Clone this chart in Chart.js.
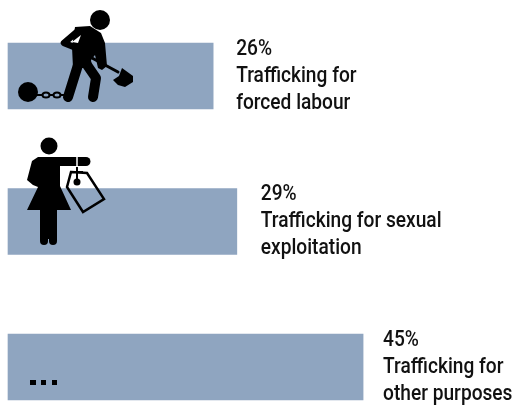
<!DOCTYPE html>
<html>
<head>
<meta charset="utf-8">
<style>
html, body { margin: 0; padding: 0; background: #fff; overflow: hidden; }
#wrap { width: 513px; height: 407px; }
</style>
<script src="https://cdn.jsdelivr.net/npm/chart.js@4"></script>
</head>
<body>
<div id="wrap"><canvas id="chart1" width="513" height="407"></canvas></div>
<script>
const categories = ['Forced labour', 'Sexual exploitation', 'Other purposes'];
const shares = [26, 29, 45];
const labelLines = [
    ['Trafficking for', 'forced labour'],
    ['Trafficking for sexual', 'exploitation'],
    ['Trafficking for', 'other purposes']
];
const labelGaps = [23, 24, 20];

function stroke(ctx, points, width) {
    ctx.lineWidth = width;
    ctx.beginPath();
    points.forEach((p, i) => i ? ctx.lineTo(p[0], p[1]) : ctx.moveTo(p[0], p[1]));
    ctx.stroke();
}

function fillPoly(ctx, points) {
    ctx.beginPath();
    points.forEach((p, i) => i ? ctx.lineTo(p[0], p[1]) : ctx.moveTo(p[0], p[1]));
    ctx.closePath();
    ctx.fill();
}

function circle(ctx, x, y, r) {
    ctx.beginPath();
    ctx.arc(x, y, r, 0, Math.PI * 2);
    ctx.fill();
}

// man with shovel, ball and chain
function drawWorker(ctx) {
    ctx.save();
    ctx.fillStyle = '#000';
    ctx.strokeStyle = '#000';
    ctx.lineCap = 'round';
    ctx.lineJoin = 'round';
    circle(ctx, 100, 20, 10);
    fillPoly(ctx, [[75, 27], [90, 26], [101, 33], [105, 43], [107, 66], [102, 70], [98, 68], [95, 55], [91, 60], [92, 68], [73, 68], [72, 47]]);
    stroke(ctx, [[78, 31], [64, 43], [74, 47]], 6.5);
    ctx.fillStyle = '#fff';
    fillPoly(ctx, [[72, 42], [81, 35], [78, 43]]);
    ctx.fillStyle = '#000';
    stroke(ctx, [[78, 65], [68, 97]], 10);
    stroke(ctx, [[85, 62], [96, 78], [93, 97]], 10);
    stroke(ctx, [[92, 58], [118, 72]], 3);
    fillPoly(ctx, [[122, 68], [133, 76], [133, 82], [125, 87], [118, 85], [113, 80], [119, 76]]);
    circle(ctx, 28, 92, 10);
    stroke(ctx, [[37, 95], [66, 95]], 2);
    ctx.lineWidth = 2;
    ctx.fillStyle = '#8fa5c0';
    [46, 57].forEach(x => {
        ctx.beginPath();
        ctx.ellipse(x, 95, 3.5, 2.5, 0, 0, Math.PI * 2);
        ctx.fill();
        ctx.stroke();
    });
    ctx.restore();
}

// woman holding a price tag
function drawTagged(ctx) {
    ctx.save();
    ctx.fillStyle = '#000';
    ctx.strokeStyle = '#000';
    ctx.lineCap = 'round';
    ctx.lineJoin = 'round';
    circle(ctx, 49, 146, 8.5);
    fillPoly(ctx, [[38, 157], [60, 157], [60, 186], [71, 210], [27, 210], [38, 187], [33, 185], [27, 180], [32, 161]]);
    stroke(ctx, [[58, 161.5], [86, 161.5]], 9);
    ctx.fillRect(40, 210, 17, 29);
    stroke(ctx, [[44, 238], [44, 241]], 8);
    stroke(ctx, [[53, 238], [53, 241]], 8);
    ctx.lineWidth = 2.5;
    ctx.lineJoin = 'miter';
    ctx.beginPath();
    ctx.moveTo(71, 172);
    ctx.lineTo(87, 173);
    ctx.lineTo(104, 199);
    ctx.lineTo(83, 212);
    ctx.lineTo(67, 187);
    ctx.closePath();
    ctx.stroke();
    ctx.strokeStyle = '#fff';
    ctx.lineCap = 'butt';
    stroke(ctx, [[77, 156], [77, 167]], 1.5);
    ctx.strokeStyle = '#000';
    stroke(ctx, [[77, 167], [77, 180]], 2);
    stroke(ctx, [[72, 172], [83, 172]], 2);
    circle(ctx, 77, 182, 3.5);
    ctx.restore();
}

function drawDots(ctx) {
    ctx.fillStyle = '#000';
    ctx.fillRect(30, 380, 6, 5);
    ctx.fillRect(41, 380, 5, 5);
    ctx.fillRect(52, 380, 5, 5);
}

const barLabels = {
    id: 'barLabels',
    afterDatasetsDraw(chart) {
        const ctx = chart.ctx;
        const xs = chart.scales.x;
        const ys = chart.scales.y;
        drawWorker(ctx);
        drawTagged(ctx);
        drawDots(ctx);
        ctx.save();
        ctx.fillStyle = '#111';
        ctx.font = '500 22px Roboto';
        ctx.textBaseline = 'middle';
        shares.forEach((v, i) => {
            const x = xs.getPixelForValue(v) + labelGaps[i];
            const y = ys.getPixelForValue(i);
            [v + '%'].concat(labelLines[i]).forEach((line, j) => {
                ctx.save();
                ctx.translate(x, y + (j - 1) * 27);
                ctx.scale(0.87, 1);
                ctx.fillText(line, 0, 0);
                ctx.restore();
            });
        });
        ctx.restore();
    }
};

new Chart(document.getElementById('chart1').getContext('2d'), {
    type: 'bar',
    data: {
        labels: categories,
        datasets: [{
            data: shares,
            backgroundColor: '#8fa5c0',
            barThickness: 66,
            clip: false
        }]
    },
    options: {
        indexAxis: 'y',
        responsive: false,
        animation: false,
        layout: { padding: { left: 8, right: 0, top: 76, bottom: 40 } },
        scales: {
            x: { display: false, min: 0, max: 64 },
            y: { display: false, offset: false }
        },
        plugins: {
            legend: { display: false },
            tooltip: { enabled: false }
        }
    },
    plugins: [barLabels]
});
</script>
</body>
</html>
